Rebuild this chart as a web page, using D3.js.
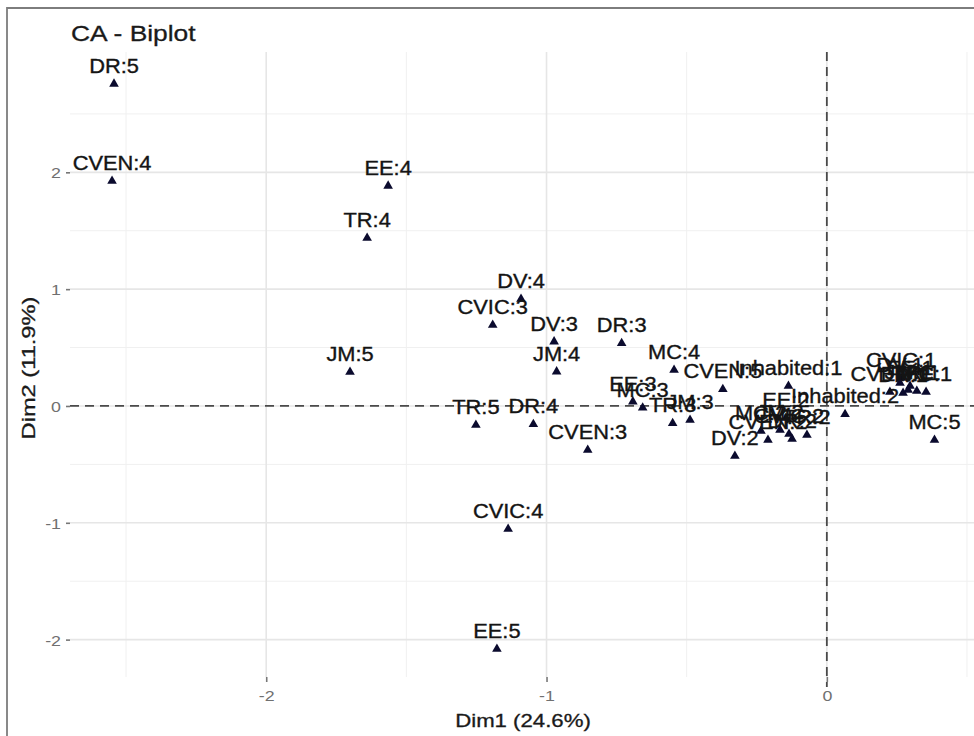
<!DOCTYPE html>
<html>
<head>
<meta charset="utf-8">
<script src="https://cdn.jsdelivr.net/npm/d3@7"></script>
<style>
  body { margin: 0; background: #fff; }
  svg text { font-family: "Liberation Sans", Arial, sans-serif; }
</style>
</head>
<body>
<div id="biplot"></div>
<script>
// category labels and their coordinates on the two CA dimensions
const labels = ["DR:5", "CVEN:4", "EE:4", "TR:4", "DV:4", "CVIC:3", "DV:3", "DR:3", "JM:4", "JM:5",
  "MC:4", "CVEN:5", "Inhabited:1", "Inhabited:2", "EE:3", "MC:3", "TR:3", "JM:3", "TR:5", "DR:4",
  "CVEN:3", "CVIC:4", "EE:5", "DV:2", "MC:5", "MC:2", "CVEN:2", "EE:2", "JM:2", "CVIC:2",
  "DR:2", "TR:2", "CVIC:1", "CVEN:1", "DR:1", "EE:1", "TR:1", "JM:1", "MC:1", "DV:1"];
const dim1 = [-2.543, -2.550, -1.565, -1.640, -1.091, -1.192, -0.973, -0.732, -0.964, -1.701,
  -0.545, -0.371, -0.137, 0.065, -0.692, -0.657, -0.550, -0.488, -1.252, -1.047,
  -0.853, -1.137, -1.177, -0.328, 0.384, -0.235, -0.210, -0.146, -0.167, -0.135,
  -0.124, -0.071, 0.265, 0.225, 0.272, 0.297, 0.321, 0.290, 0.354, 0.261];
const dim2 = [2.757, 1.926, 1.884, 1.438, 0.916, 0.693, 0.551, 0.537, 0.294, 0.291,
  0.308, 0.143, 0.171, -0.071, 0.037, -0.015, -0.148, -0.120, -0.163, -0.157,
  -0.377, -1.053, -2.080, -0.428, -0.291, -0.214, -0.291, -0.103, -0.205, -0.240,
  -0.283, -0.248, 0.240, 0.120, 0.111, 0.171, 0.128, 0.137, 0.120, 0.197];

const xTicks = [-2, -1, 0];
const yTicks = [-2, -1, 0, 1, 2];
const xMinor = [-2.5, -1.5, -0.5, 0.5];
const yMinor = [-1.5, -0.5, 0.5, 1.5, 2.5];

const data = labels.map((l, i) => ({ label: l, x: dim1[i], y: dim2[i] }));

const W = 974, H = 736;
const panel = { left: 70, right: 974, top: 52, bottom: 677 };

const svg = d3.select("#biplot").append("svg")
    .attr("width", W)
    .attr("height", H);

const xScale = d3.scaleLinear().domain([-2.7, 0.525]).range([panel.left, panel.right]);
const yScale = d3.scaleLinear().domain([-2.32, 3.03]).range([panel.bottom, panel.top]);

// text in the picture is a bit wider than normal glyphs
const stretch = 1.12;
const fmt = d => String(d);  // plain hyphen, not the unicode minus

// grid
const grid = svg.append("g");
grid.selectAll(".vminor").data(xMinor).enter().append("line")
    .attr("x1", d => xScale(d)).attr("x2", d => xScale(d))
    .attr("y1", panel.top).attr("y2", panel.bottom)
    .attr("stroke", "#f0f0f0").attr("stroke-width", 1);
grid.selectAll(".hminor").data(yMinor).enter().append("line")
    .attr("x1", panel.left).attr("x2", panel.right)
    .attr("y1", d => yScale(d)).attr("y2", d => yScale(d))
    .attr("stroke", "#f0f0f0").attr("stroke-width", 1);
grid.selectAll(".vmajor").data(xTicks).enter().append("line")
    .attr("x1", d => xScale(d)).attr("x2", d => xScale(d))
    .attr("y1", panel.top).attr("y2", panel.bottom)
    .attr("stroke", "#e6e6e6").attr("stroke-width", 1.6);
grid.selectAll(".hmajor").data(yTicks).enter().append("line")
    .attr("x1", panel.left).attr("x2", panel.right)
    .attr("y1", d => yScale(d)).attr("y2", d => yScale(d))
    .attr("stroke", "#e6e6e6").attr("stroke-width", 1.6);

// axes
const xAxis = svg.append("g")
    .attr("transform", `translate(0, ${panel.bottom})`)
    .call(d3.axisBottom(xScale).tickValues(xTicks).tickFormat(fmt).tickSize(5).tickPadding(4));
const yAxis = svg.append("g")
    .attr("transform", `translate(${panel.left}, 0)`)
    .call(d3.axisLeft(yScale).tickValues(yTicks).tickFormat(fmt).tickSize(4).tickPadding(5));

[xAxis, yAxis].forEach(ax => {
    ax.select(".domain").remove();
    ax.selectAll(".tick line").attr("stroke", "#777").attr("stroke-width", 1.6);
    ax.selectAll(".tick text")
        .attr("fill", "#707070")
        .style("font-size", "15.5px")
        .style("font-family", "'Liberation Sans', Arial, sans-serif");
});
xAxis.selectAll(".tick text").attr("y", 0).attr("dy", 0)
    .attr("transform", "translate(0,24) scale(1.15,1)");
yAxis.selectAll(".tick text").attr("x", 0).attr("dy", 0)
    .attr("transform", "translate(-9,5.5) scale(1.15,1)");

// reference lines at zero
svg.append("line")
    .attr("x1", panel.left).attr("x2", panel.right)
    .attr("y1", yScale(0)).attr("y2", yScale(0))
    .attr("stroke", "#4a4a4a").attr("stroke-width", 1.8)
    .attr("stroke-dasharray", "9,6");
svg.append("line")
    .attr("x1", xScale(0)).attr("x2", xScale(0))
    .attr("y1", panel.top).attr("y2", panel.bottom + 10)
    .attr("stroke", "#4a4a4a").attr("stroke-width", 1.8)
    .attr("stroke-dasharray", "9,6");

// points
svg.append("g")
    .selectAll("path")
    .data(data)
    .enter()
    .append("path")
        .attr("d", d3.symbol().type(d3.symbolTriangle).size(40))
        .attr("transform", d => `translate(${xScale(d.x)},${yScale(d.y)})`)
        .attr("fill", "#0b0b2e");

// labels
svg.append("g")
    .selectAll("text")
    .data(data)
    .enter()
    .append("text")
        .attr("text-anchor", "middle")
        .attr("transform", d => `translate(${xScale(d.x)},${yScale(d.y) - 11}) scale(${stretch},1)`)
        .attr("fill", "#141414")
        .attr("stroke", "#141414")
        .attr("stroke-width", 0.35)
        .style("font-size", "19.5px")
        .text(d => d.label);

// titles
svg.append("text")
    .attr("transform", "translate(71,41) scale(1.2,1)")
    .attr("fill", "#1a1a1a")
    .attr("stroke", "#1a1a1a")
    .attr("stroke-width", 0.3)
    .style("font-size", "22px")
    .text("CA - Biplot");

svg.append("text")
    .attr("text-anchor", "middle")
    .attr("transform", "translate(523,727) scale(1.2,1)")
    .attr("fill", "#1a1a1a")
    .attr("stroke", "#1a1a1a")
    .attr("stroke-width", 0.3)
    .style("font-size", "18.5px")
    .text("Dim1 (24.6%)");

svg.append("text")
    .attr("text-anchor", "middle")
    .attr("transform", "translate(35,368) rotate(-90) scale(1.28,1)")
    .attr("fill", "#1a1a1a")
    .attr("stroke", "#1a1a1a")
    .attr("stroke-width", 0.3)
    .style("font-size", "18.5px")
    .text("Dim2 (11.9%)");

// frame of the screenshot (top and left edges)
svg.append("path")
    .attr("d", `M7,${H} L7,8 L${W},8`)
    .attr("fill", "none")
    .attr("stroke", "#7d7d7d")
    .attr("stroke-width", 1.8);
</script>
</body>
</html>
